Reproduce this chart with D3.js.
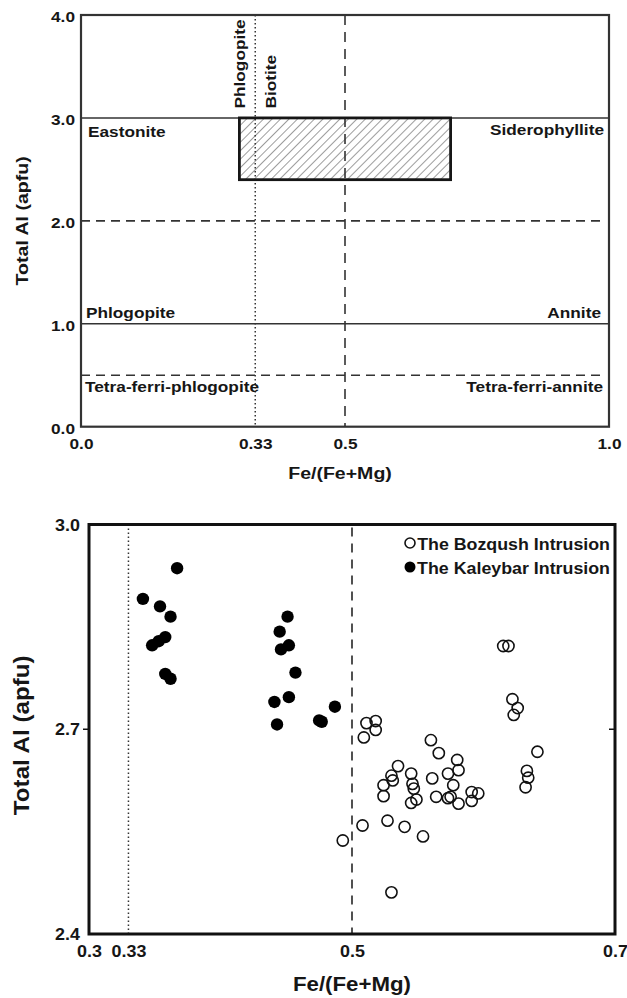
<!DOCTYPE html>
<html>
<head>
<meta charset="utf-8">
<script src="https://cdn.jsdelivr.net/npm/d3@7"></script>
<style>
  html, body { margin: 0; padding: 0; background: #fff; }
  svg { display: block; }
  text { font-family: "Liberation Sans", Arial, Helvetica, sans-serif; font-weight: bold; fill: #161616; }
</style>
</head>
<body>
<script>
// ---------- data ----------
const topXTicks = [0, 0.33, 0.5, 1.0];
const topXTickLabels = ["0.0", "0.33", "0.5", "1.0"];
const topYTicks = [0, 1, 2, 3, 4];
const topYTickLabels = ["0.0", "1.0", "2.0", "3.0", "4.0"];
const solidLevels = [1, 3];
const dashedLevels = [0.5, 2];
const splitPhlogBiotite = 0.33;
const splitFeMg = 0.5;
const boxFe = [0.3, 0.7];
const boxAl = [2.4, 3.0];
const regionNames = ["Eastonite", "Siderophyllite", "Phlogopite", "Annite", "Tetra-ferri-phlogopite", "Tetra-ferri-annite"];

const botXTicks = [0.3, 0.33, 0.5, 0.7];
const botXTickLabels = ["0.3", "0.33", "0.5", "0.7"];
const botYTicks = [2.4, 2.7, 3.0];
const botYTickLabels = ["2.4", "2.7", "3.0"];

const seriesNames = ["The Bozqush Intrusion", "The Kaleybar Intrusion"];
const bozqushFe = [0.615, 0.619, 0.622, 0.626, 0.623, 0.511, 0.518, 0.518, 0.509, 0.560, 0.566, 0.641, 0.580, 0.535, 0.581, 0.573, 0.545, 0.633, 0.634, 0.530, 0.531, 0.561, 0.524, 0.546, 0.547, 0.577, 0.632, 0.524, 0.591, 0.596, 0.564, 0.573, 0.575, 0.549, 0.545, 0.581, 0.591, 0.508, 0.527, 0.540, 0.554, 0.493, 0.530];
const bozqushAl = [2.822, 2.822, 2.744, 2.731, 2.721, 2.709, 2.712, 2.699, 2.688, 2.684, 2.665, 2.667, 2.655, 2.646, 2.640, 2.635, 2.635, 2.639, 2.629, 2.632, 2.625, 2.628, 2.618, 2.620, 2.613, 2.618, 2.615, 2.602, 2.608, 2.606, 2.601, 2.599, 2.601, 2.597, 2.592, 2.591, 2.595, 2.559, 2.566, 2.557, 2.543, 2.537, 2.461];
const kaleybarFe = [0.367, 0.341, 0.354, 0.362, 0.358, 0.353, 0.348, 0.358, 0.362, 0.451, 0.445, 0.452, 0.446, 0.457, 0.441, 0.452, 0.443, 0.475, 0.477, 0.487];
const kaleybarAl = [2.936, 2.891, 2.880, 2.865, 2.835, 2.829, 2.823, 2.781, 2.774, 2.865, 2.843, 2.823, 2.817, 2.783, 2.740, 2.747, 2.707, 2.713, 2.711, 2.733];

// ---------- setup ----------
const W = 627, H = 998;
const svg = d3.select("body").append("svg").attr("width", W).attr("height", H);
const ink = "#161616", lineCol = "#333";

const defs = svg.append("defs");
const pat = defs.append("pattern").attr("id", "hatch").attr("patternUnits", "userSpaceOnUse")
  .attr("width", 6).attr("height", 6).attr("patternTransform", "rotate(45)");
pat.append("line").attr("x1", 0).attr("y1", 0).attr("x2", 0).attr("y2", 6)
  .attr("stroke", "#5a5a5a").attr("stroke-width", 1.2);

function label(g, x, y, s, o) {
  o = o || {};
  return g.append("text")
    .attr("transform", `translate(${x},${y}) rotate(${o.rot || 0}) scale(${o.sx || 1},1)`)
    .attr("text-anchor", o.anchor || "start")
    .style("font-size", (o.size || 15) + "px")
    .text(s);
}

// ================= TOP CHART =================
const tL = 81, tR = 609, tT = 15, tB = 426.7;
const tx = d3.scaleLinear().domain([0, 1]).range([tL, tR]);
const ty = d3.scaleLinear().domain([0, 4]).range([tB, tT]);
const gTop = svg.append("g");

// hatched field
gTop.append("rect")
  .attr("x", tx(boxFe[0])).attr("y", ty(boxAl[1]))
  .attr("width", tx(boxFe[1]) - tx(boxFe[0])).attr("height", ty(boxAl[0]) - ty(boxAl[1]))
  .attr("fill", "url(#hatch)");

// horizontal solid lines
gTop.selectAll(".hs").data(solidLevels).join("line")
  .attr("x1", tL).attr("x2", tR).attr("y1", d => ty(d)).attr("y2", d => ty(d))
  .attr("stroke", lineCol).attr("stroke-width", 1.6);
// horizontal dashed lines
gTop.selectAll(".hd").data(dashedLevels).join("line")
  .attr("x1", tL).attr("x2", tR - 4).attr("y1", d => ty(d)).attr("y2", d => ty(d))
  .attr("stroke", lineCol).attr("stroke-width", 1.6).attr("stroke-dasharray", "9,6");
// vertical dashed at 0.5
gTop.append("line").attr("x1", tx(splitFeMg)).attr("x2", tx(splitFeMg)).attr("y1", tT).attr("y2", tB)
  .attr("stroke", lineCol).attr("stroke-width", 1.6).attr("stroke-dasharray", "10,7");
// vertical dotted at 0.33
gTop.append("line").attr("x1", tx(splitPhlogBiotite)).attr("x2", tx(splitPhlogBiotite)).attr("y1", tT).attr("y2", tB)
  .attr("stroke", lineCol).attr("stroke-width", 1.5).attr("stroke-dasharray", "1.5,2.5");

// hatched box outline
gTop.append("rect")
  .attr("x", tx(boxFe[0])).attr("y", ty(boxAl[1]))
  .attr("width", tx(boxFe[1]) - tx(boxFe[0])).attr("height", ty(boxAl[0]) - ty(boxAl[1]))
  .attr("fill", "none").attr("stroke", ink).attr("stroke-width", 2.8);

// frame
gTop.append("rect").attr("x", tL).attr("y", tT).attr("width", tR - tL).attr("height", tB - tT)
  .attr("fill", "none").attr("stroke", lineCol).attr("stroke-width", 2.2);

// axes (labels only)
const tsx = 1.15;
const axTY = gTop.append("g").attr("transform", `translate(${tL},0)`)
  .call(d3.axisLeft(ty).tickValues(topYTicks).tickSize(0).tickFormat((d, i) => topYTickLabels[i]));
axTY.select(".domain").remove();
axTY.selectAll("text").attr("x", 0).attr("dy", "0.42em")
  .attr("transform", `translate(-6,0) scale(${tsx},1)`).style("font-size", "15px").style("font-family", null);

const axTX = gTop.append("g").attr("transform", `translate(0,${tB})`)
  .call(d3.axisBottom(tx).tickValues(topXTicks).tickSize(0).tickFormat((d, i) => topXTickLabels[i]));
axTX.select(".domain").remove();
axTX.selectAll("text").attr("y", 0).attr("dy", "0")
  .attr("transform", `translate(0,22) scale(${tsx},1)`).style("font-size", "15px").style("font-family", null);

// region labels
label(gTop, 88, 136.5, regionNames[0], { size: 15, sx: tsx });
label(gTop, 604, 134.5, regionNames[1], { size: 15, sx: tsx, anchor: "end" });
label(gTop, 86, 317.5, regionNames[2], { size: 15, sx: tsx });
label(gTop, 601, 317.5, regionNames[3], { size: 15, sx: tsx, anchor: "end" });
label(gTop, 85, 392, regionNames[4], { size: 15, sx: tsx });
label(gTop, 603, 392, regionNames[5], { size: 15, sx: tsx, anchor: "end" });
// rotated phlogopite / biotite
label(gTop, tx(splitPhlogBiotite) - 10, 108.5, "Phlogopite", { size: 15, sx: tsx, rot: -90 });
label(gTop, tx(splitPhlogBiotite) + 20.5, 108.5, "Biotite", { size: 15, sx: tsx, rot: -90 });

// titles
label(gTop, (tL + tR) / 2 - 5, 479, "Fe/(Fe+Mg)", { size: 17, sx: tsx, anchor: "middle" });
label(gTop, 28, (tT + tB) / 2, "Total Al (apfu)", { size: 17, sx: tsx, anchor: "middle", rot: -90 });

// ================= BOTTOM CHART =================
const bL = 89, bR = 615, bT = 524.5, bB = 934;
const bx = d3.scaleLinear().domain([0.3, 0.7]).range([bL, bR]);
const by = d3.scaleLinear().domain([2.4, 3.0]).range([bB, bT]);
const gBot = svg.append("g");

// reference lines
gBot.append("line").attr("x1", bx(splitPhlogBiotite)).attr("x2", bx(splitPhlogBiotite)).attr("y1", bT).attr("y2", bB)
  .attr("stroke", lineCol).attr("stroke-width", 1.5).attr("stroke-dasharray", "1.5,2.5");
gBot.append("line").attr("x1", bx(splitFeMg)).attr("x2", bx(splitFeMg)).attr("y1", bT + 3).attr("y2", bB)
  .attr("stroke", lineCol).attr("stroke-width", 1.7).attr("stroke-dasharray", "9,7");

// points
gBot.selectAll(".kal").data(kaleybarFe).join("circle")
  .attr("cx", d => bx(d)).attr("cy", (d, i) => by(kaleybarAl[i])).attr("r", 6.2)
  .attr("fill", "#000");
gBot.selectAll(".boz").data(bozqushFe).join("circle")
  .attr("cx", d => bx(d)).attr("cy", (d, i) => by(bozqushAl[i])).attr("r", 5.6)
  .attr("fill", "none").attr("stroke", "#111").attr("stroke-width", 1.6);

// frame
gBot.append("rect").attr("x", bL).attr("y", bT).attr("width", bR - bL).attr("height", bB - bT)
  .attr("fill", "none").attr("stroke", "#111").attr("stroke-width", 3);

// axes
const bsx = 1.12;
const axBY = gBot.append("g").attr("transform", `translate(${bL},0)`)
  .call(d3.axisLeft(by).tickValues(botYTicks).tickSize(0).tickFormat((d, i) => botYTickLabels[i]));
axBY.select(".domain").remove();
axBY.selectAll("text").attr("x", 0).attr("dy", "0.35em")
  .attr("transform", `translate(-9,0) scale(${bsx},1)`).style("font-size", "16px").style("font-family", null);
// 2.7 tick marks: outward on left, inward on right
gBot.append("line").attr("x1", bL - 6).attr("x2", bL).attr("y1", by(2.7)).attr("y2", by(2.7)).attr("stroke", "#111").attr("stroke-width", 1.5);
gBot.append("line").attr("x1", bR - 6).attr("x2", bR).attr("y1", by(2.7)).attr("y2", by(2.7)).attr("stroke", "#111").attr("stroke-width", 1.5);

const axBX = gBot.append("g").attr("transform", `translate(0,${bB})`)
  .call(d3.axisBottom(bx).tickValues(botXTicks).tickSize(0).tickFormat((d, i) => botXTickLabels[i]));
axBX.select(".domain").remove();
axBX.selectAll("text").attr("y", 0).attr("dy", "0")
  .attr("transform", `translate(0,22.5) scale(${bsx},1)`).style("font-size", "16px").style("font-family", null);

// legend
const lg = gBot.append("g");
lg.append("circle").attr("cx", 410).attr("cy", 543).attr("r", 5).attr("fill", "none").attr("stroke", "#111").attr("stroke-width", 1.6);
lg.append("circle").attr("cx", 410).attr("cy", 567).attr("r", 5.5).attr("fill", "#000");
label(lg, 610, 549.5, seriesNames[0], { size: 16.5, sx: 1.08, anchor: "end" });
label(lg, 610, 573.5, seriesNames[1], { size: 16.5, sx: 1.08, anchor: "end" });

// titles
label(gBot, (bL + bR) / 2, 991, "Fe/(Fe+Mg)", { size: 21, sx: 1.06, anchor: "middle" });
label(gBot, 29, (bT + bB) / 2 + 6, "Total Al (apfu)", { size: 22, sx: 1.1, anchor: "middle", rot: -90 });
</script>
</body>
</html>
